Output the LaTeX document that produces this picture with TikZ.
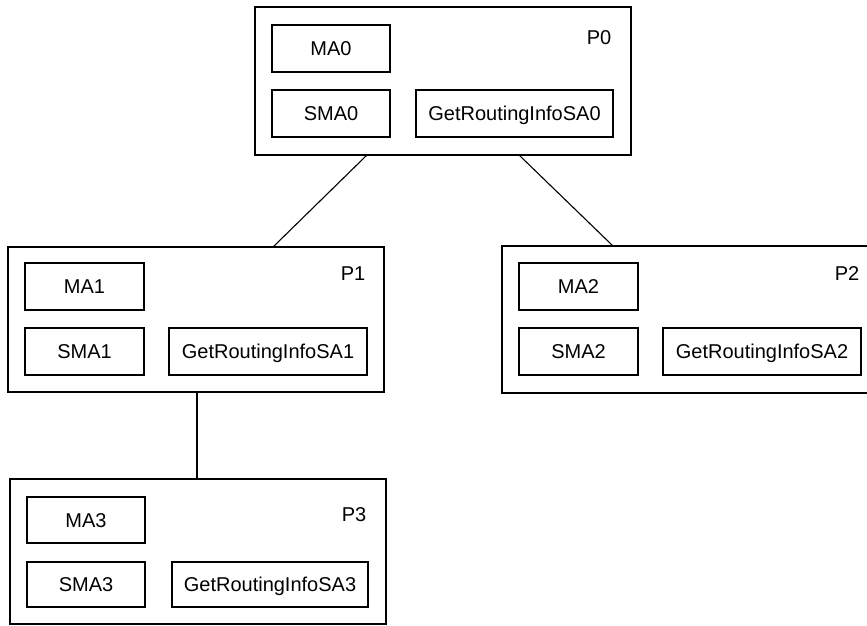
\documentclass[tikz,border=0pt]{standalone}
\usepackage{fontspec}
\setmainfont{Liberation Sans}
\begin{document}
\begin{tikzpicture}[x=1pt,y=-1pt,
  every node/.style={inner sep=0pt,outer sep=0pt},
  frame/.style={draw=black,line width=1.1pt,fill=white},
  agent/.style={draw=black,line width=1.1pt,fill=white,
    font=\fontsize{20}{24}\selectfont,text height=14.3pt,text depth=0pt},
  tag/.style={font=\fontsize{20}{24}\selectfont,text height=14.3pt,text depth=0pt},
  link/.style={draw=black,line width=1.1pt}]
\useasboundingbox (0,0) rectangle (867,626);
\clip (0,0) rectangle (867,626);

% P0
\node[frame,minimum width=376,minimum height=148] (p0) at (443,81) {};
\node[agent,minimum width=118,minimum height=47] (ma0) at (331,48.5) {MA0};
\node[agent,minimum width=118,minimum height=47] (sma0) at (331,113.5) {SMA0};
\node[agent,minimum width=197,minimum height=47] (gri0) at (514.5,113.5) {GetRoutingInfoSA0};
\node[tag] (l0) at (599,37) {P0};

% P1
\node[frame,minimum width=376,minimum height=145] (p1) at (196,319.5) {};
\node[agent,minimum width=119,minimum height=47] (ma1) at (84.5,286.5) {MA1};
\node[agent,minimum width=119,minimum height=47] (sma1) at (84.5,351.5) {SMA1};
\node[agent,minimum width=198,minimum height=47] (gri1) at (268,351.5) {GetRoutingInfoSA1};
\node[tag] (l1) at (353,273) {P1};

% P2
\node[frame,minimum width=378,minimum height=147] (p2) at (691,319.5) {};
\node[agent,minimum width=119,minimum height=47] (ma2) at (578.5,286.5) {MA2};
\node[agent,minimum width=119,minimum height=47] (sma2) at (578.5,351.5) {SMA2};
\node[agent,minimum width=198,minimum height=47] (gri2) at (762,351.5) {GetRoutingInfoSA2};
\node[tag] (l2) at (847,273) {P2};

% P3
\node[frame,minimum width=376,minimum height=145] (p3) at (198,551.5) {};
\node[agent,minimum width=118,minimum height=46] (ma3) at (86,520) {MA3};
\node[agent,minimum width=118,minimum height=45] (sma3) at (86,584.5) {SMA3};
\node[agent,minimum width=196,minimum height=45] (gri3) at (270,584.5) {GetRoutingInfoSA3};
\node[tag] (l3) at (354,514) {P3};

% tree connections
\draw[link] ([xshift=-76pt]p0.south) -- ([xshift=77pt]p1.north);
\draw[link] ([xshift=76pt]p0.south) -- ([xshift=-78pt]p2.north);
\draw[link] ([xshift=1pt]p1.south) -- ([xshift=1pt]p1.south |- p3.north);
\end{tikzpicture}
\end{document}
